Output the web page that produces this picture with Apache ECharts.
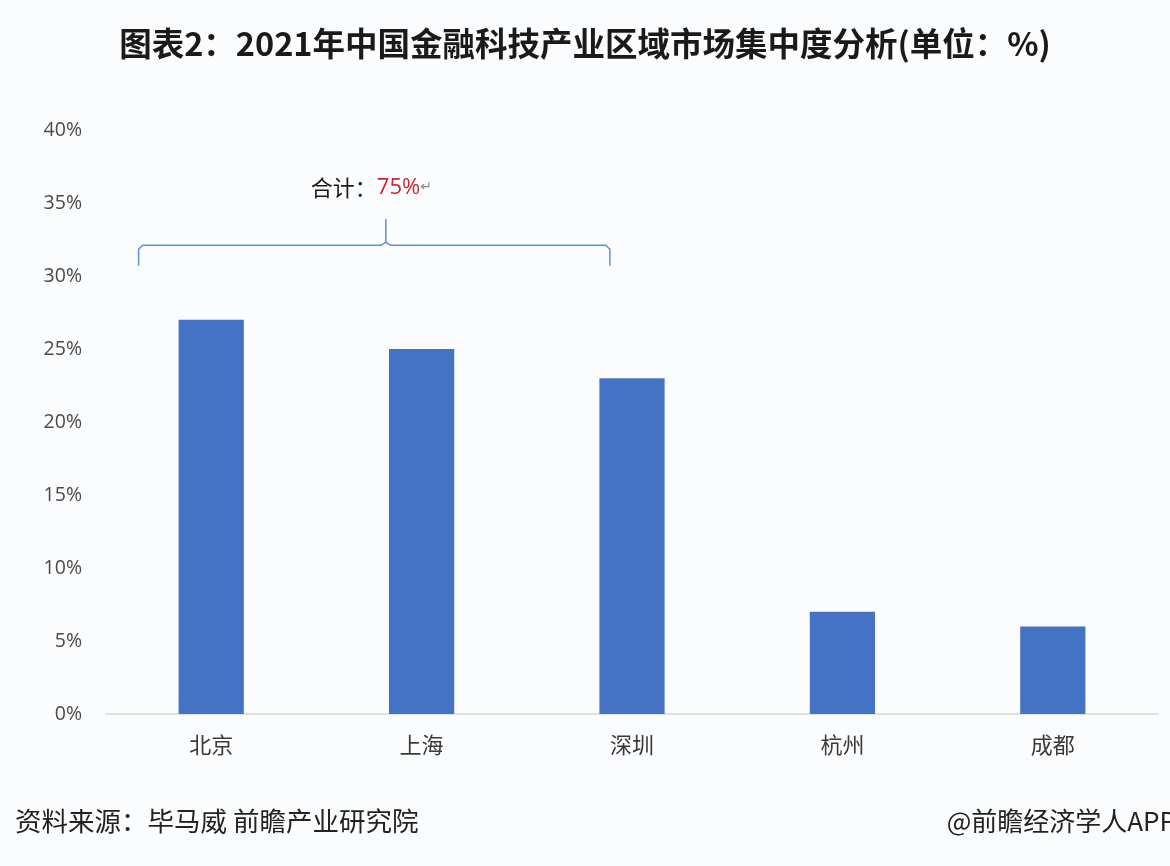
<!DOCTYPE html>
<html><head><meta charset="utf-8">
<script src="https://cdn.jsdelivr.net/npm/echarts@6/dist/echarts.min.js"></script>
<style>html,body{margin:0;padding:0;background:#fbfcfe;}#c{width:1170px;height:866px;}</style>
</head><body><div id="c"></div>
<script>
const categories = ['北京', '上海', '深圳', '杭州', '成都'];
const shares = [27, 25, 23, 7, 6];
const yTicks = [0, 5, 10, 15, 20, 25, 30, 35, 40];
const totalLabel = '75%';

const chart = echarts.init(document.getElementById('c'));
const footer = [
  { type: 'text', left: 15, top: 808, style: { text: '资料来源：毕马威 前瞻产业研究院', fontFamily: 'Noto Sans CJK SC', fontSize: 26.5, fill: '#222' } },
  { type: 'text', right: -6, top: 808, style: { text: '@前瞻经济学人APP', fontFamily: 'Noto Sans CJK SC', fontSize: 26, fill: '#222' } }
];
const option = {
  backgroundColor: '#fbfcfe',
  animation: false,
  title: {
    text: '图表2：2021年中国金融科技产业区域市场集中度分析(单位：%)',
    left: 'center', top: 22,
    textStyle: { fontFamily: 'Noto Sans CJK SC', fontWeight: 'bold', fontSize: 32.5, color: '#1a1a1a' }
  },
  grid: { left: 106, right: 12, top: 130, bottom: 152 },
  xAxis: {
    type: 'category', data: categories,
    axisLine: { lineStyle: { color: '#d6d6d6', width: 1.5 } },
    axisTick: { show: false },
    axisLabel: { fontFamily: 'Noto Sans CJK SC', fontSize: 22, color: '#3a3a3a', margin: 20 }
  },
  yAxis: {
    type: 'value', min: yTicks[0], max: yTicks[yTicks.length - 1], interval: 5,
    splitLine: { show: false },
    axisLine: { show: false }, axisTick: { show: false },
    axisLabel: { formatter: '{value}%', fontFamily: 'Open Sans', fontSize: 19.5, color: '#4a4a4a', margin: 24 }
  },
  series: [{
    type: 'bar', data: shares, barWidth: '31%',
    itemStyle: { color: '#4472c4' }
  }],
  graphic: footer
};
chart.setOption(option);

// bracket annotation spanning first three categories
const p0 = chart.convertToPixel({ seriesIndex: 0 }, [0, 32.1]);
const p2 = chart.convertToPixel({ seriesIndex: 0 }, [2, 32.1]);
const pEnd = chart.convertToPixel({ seriesIndex: 0 }, [0, 30.7]);
const pTip = chart.convertToPixel({ seriesIndex: 0 }, [0, 33.9]);
const pTxt = chart.convertToPixel({ seriesIndex: 0 }, [0, 36.2]);
const catW = (p2[0] - p0[0]) / 2;
const xL = p0[0] - catW * 0.345;
const xR = p2[0] - catW * 0.105;
const xM = p0[0] + catW * 0.83;
const yH = p0[1], yE = pEnd[1], yT = pTip[1];
chart.setOption({
  graphic: footer.concat([
    { type: 'polyline', shape: { points: [[xL, yE], [xL, yH + 4], [xL + 4, yH], [xM - 5, yH], [xM, yH - 3], [xM, yT], [xM, yH - 3], [xM + 5, yH], [xR - 4, yH], [xR, yH + 4], [xR, yE]] },
      style: { stroke: '#5a93dc', lineWidth: 1.5, fill: null } },
    { type: 'text', x: xM - 75, y: pTxt[1] - 9,
      style: { text: '{a|合计：}{b|' + totalLabel + '}{c|↵}', rich: {
        a: { fontFamily: 'Noto Sans CJK SC', fontSize: 22, fill: '#1a1a1a' },
        b: { fontFamily: 'Open Sans', fontSize: 22, fill: '#c8282d' },
        c: { fontFamily: 'DejaVu Sans', fontSize: 14, fill: '#888' } } } }
  ])
});
</script></body></html>
